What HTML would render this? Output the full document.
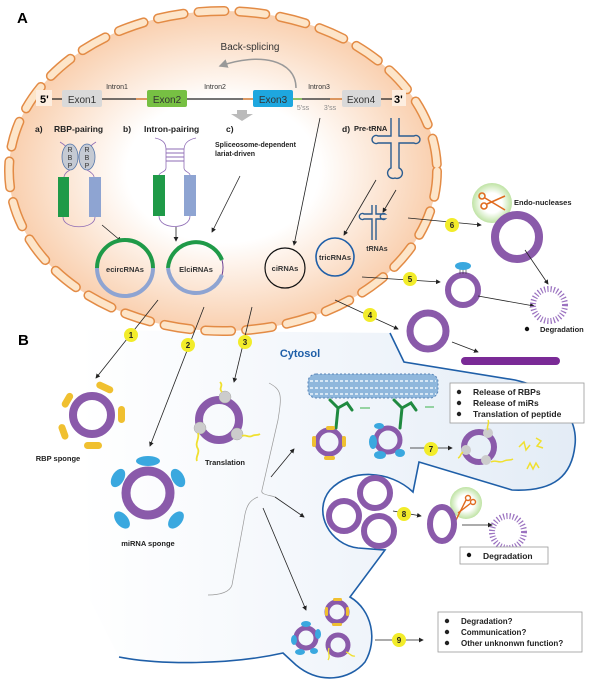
<!DOCTYPE html>
<html><head><meta charset="utf-8"><style>
html,body{margin:0;padding:0;background:#fff}
svg{display:block}
text{font-family:"Liberation Sans",Arial,sans-serif}
</style></head><body>
<svg width="600" height="690" viewBox="0 0 600 690" xmlns="http://www.w3.org/2000/svg">
<defs>
<radialGradient id="nuc" cx="50%" cy="50%" r="50%">
<stop offset="0.45" stop-color="#ffffff"/><stop offset="1" stop-color="#f9cfae"/>
</radialGradient>
<linearGradient id="cyt" x1="0" y1="0" x2="1" y2="0">
<stop offset="0" stop-color="#ffffff"/><stop offset="0.5" stop-color="#f2f6fb"/><stop offset="1" stop-color="#e3ecf6"/>
</linearGradient>
<marker id="ar" markerWidth="6" markerHeight="6" refX="5" refY="3" orient="auto"><path d="M0,0 L6,3 L0,6 z" fill="#222"/></marker>
<marker id="arg" markerWidth="6" markerHeight="6" refX="5" refY="3" orient="auto"><path d="M0,0 L6,3 L0,6 z" fill="#999"/></marker>
<radialGradient id="glow"><stop offset="0.5" stop-color="#ffffff"/><stop offset="1" stop-color="#bfe3a4"/></radialGradient>
</defs>

<!-- cytosol -->
<path d="M390,333 L404,362 L515,380 C560,390 578,420 575,445 C572,475 555,492 512,490 L419,462 L413,492 C390,470 350,468 330,490 C312,512 330,545 358,548 L385,550 L350,597 C372,610 378,640 365,662 C350,680 320,685 296,665 L283,653 C230,665 160,665 119,657 L90,600 L80,330 Z" fill="url(#cyt)"/>
<path d="M390,333 L404,362 L515,380 C560,390 578,420 575,445 C572,475 555,492 512,490 L419,462 L413,492 C390,470 350,468 330,490 C312,512 330,545 358,548 L385,550 L350,597 C372,610 378,640 365,662 C350,680 320,685 296,665 L283,653 C230,665 160,665 119,657" fill="none" stroke="#1f5fa8" stroke-width="1.6"/>

<!-- nucleus -->
<ellipse cx="223" cy="171" rx="214" ry="160" fill="url(#nuc)"/>
<ellipse cx="223" cy="171" rx="214" ry="160" fill="none" stroke="#e38b45" stroke-width="10" stroke-dasharray="26 15" stroke-linecap="round"/>
<ellipse cx="223" cy="171" rx="214" ry="160" fill="none" stroke="#fde5c9" stroke-width="7" stroke-dasharray="26 15" stroke-linecap="round"/>

<text x="17" y="23" font-size="15" font-weight="bold">A</text>
<text x="18" y="345" font-size="15" font-weight="bold">B</text>

<!-- gene -->
<line x1="52" y1="99" x2="395" y2="99" stroke="#222" stroke-width="1.3"/>
<line x1="136" y1="99" x2="147" y2="99" stroke="#e38b45" stroke-width="1.5"/>
<line x1="243" y1="99" x2="253" y2="99" stroke="#e38b45" stroke-width="1.5"/>
<line x1="293" y1="99" x2="302" y2="99" stroke="#7cc04a" stroke-width="1.5"/>
<line x1="330" y1="99" x2="342" y2="99" stroke="#e38b45" stroke-width="1.5"/>
<rect x="62" y="90" width="40" height="17" rx="2" fill="#d9d9d9"/><text x="82" y="103" font-size="10" text-anchor="middle" fill="#333">Exon1</text>
<rect x="147" y="90" width="40" height="17" rx="2" fill="#77c043"/><text x="167" y="103" font-size="10" text-anchor="middle" fill="#333">Exon2</text>
<rect x="253" y="90" width="40" height="17" rx="2" fill="#1ea7df"/><text x="273" y="103" font-size="10" text-anchor="middle" fill="#333">Exon3</text>
<rect x="342" y="90" width="39" height="17" rx="2" fill="#d9d9d9"/><text x="361" y="103" font-size="10" text-anchor="middle" fill="#333">Exon4</text>
<rect x="36" y="90" width="16" height="16" fill="#fdeee0"/><text x="40" y="103" font-size="11" font-weight="bold">5'</text>
<rect x="392" y="90" width="14" height="16" fill="#fdeee0"/><text x="394" y="103" font-size="11" font-weight="bold">3'</text>
<text x="117" y="89" font-size="7" text-anchor="middle" fill="#333">Intron1</text>
<text x="215" y="89" font-size="7" text-anchor="middle" fill="#333">Intron2</text>
<text x="319" y="89" font-size="7" text-anchor="middle" fill="#333">Intron3</text>
<text x="303" y="110" font-size="7" text-anchor="middle" fill="#888">5'ss</text>
<text x="330" y="110" font-size="7" text-anchor="middle" fill="#888">3'ss</text>
<text x="250" y="50" font-size="10" text-anchor="middle" fill="#333">Back-splicing</text>
<path d="M296,88 C296,60 260,52 220,66" fill="none" stroke="#999" stroke-width="1.5" marker-end="url(#arg)"/>
<path d="M237,110 h10 v4 h6 l-11,7 l-11,-7 h6 z" fill="#bbb"/>

<!-- a b c d labels -->
<g font-size="8.5" font-weight="bold" fill="#222">
<text x="35" y="132">a)</text><text x="54" y="132">RBP-pairing</text>
<text x="123" y="132">b)</text><text x="144" y="132">Intron-pairing</text>
<text x="226" y="132">c)</text>
<text x="215" y="147" font-size="7">Spliceosome-dependent</text>
<text x="215" y="156" font-size="7">lariat-driven</text>
<text x="342" y="132">d)</text><text x="354" y="131" font-size="7.5">Pre-tRNA</text>
</g>

<!-- RBP pairing -->
<path d="M60,142 C70,148 74,155 72,168 M96,142 C86,148 84,155 86,168" fill="none" stroke="#8e6bb5" stroke-width="0.8"/>
<ellipse cx="70" cy="157" rx="8" ry="13" fill="#c5cad3" stroke="#5577aa" stroke-width="0.8"/>
<ellipse cx="87" cy="157" rx="8" ry="13" fill="#c5cad3" stroke="#5577aa" stroke-width="0.8"/>
<g font-size="7" fill="#333" text-anchor="middle"><text x="70" y="152">R</text><text x="70" y="160">B</text><text x="70" y="168">P</text><text x="87" y="152">R</text><text x="87" y="160">B</text><text x="87" y="168">P</text></g>
<path d="M70,170 C66,172 64,175 64,177 M87,170 C91,172 94,175 94,177" fill="none" stroke="#8e6bb5" stroke-width="0.8"/>
<rect x="58" y="177" width="11" height="40" fill="#1f9a48"/>
<rect x="89" y="177" width="12" height="40" fill="#8ea4d2"/>
<path d="M63,217 C63,230 95,230 95,217" fill="none" stroke="#8e6bb5" stroke-width="0.8"/>
<line x1="102" y1="225" x2="121" y2="241" stroke="#222" stroke-width="0.8" marker-end="url(#ar)"/>

<!-- intron pairing -->
<path d="M155,138 C165,140 166,145 166,150 L166,168 C166,172 160,172 159,175 M196,138 C186,140 184,145 184,150 L184,168 C184,172 190,172 190,175" fill="none" stroke="#8e6bb5" stroke-width="0.8"/>
<g stroke="#8e6bb5" stroke-width="1"><line x1="166" y1="149" x2="184" y2="149"/><line x1="166" y1="153" x2="184" y2="153"/><line x1="166" y1="157" x2="184" y2="157"/><line x1="166" y1="161" x2="184" y2="161"/></g>
<rect x="153" y="175" width="12" height="41" fill="#1f9a48"/>
<rect x="184" y="175" width="12" height="41" fill="#8ea4d2"/>
<path d="M159,216 C159,230 190,230 190,216" fill="none" stroke="#8e6bb5" stroke-width="0.8"/>
<line x1="176" y1="227" x2="176" y2="241" stroke="#222" stroke-width="0.8" marker-end="url(#ar)"/>
<line x1="240" y1="176" x2="212" y2="232" stroke="#222" stroke-width="0.8" marker-end="url(#ar)"/>
<line x1="320" y1="118" x2="294" y2="245" stroke="#222" stroke-width="0.8" marker-end="url(#ar)"/>

<!-- circRNAs -->
<path d="M97,268 A28,28 0 0 1 153,268" fill="none" stroke="#1f9a48" stroke-width="4"/>
<path d="M153,268 A28,28 0 0 1 97,268" fill="none" stroke="#8ea4d2" stroke-width="4"/>
<text x="125" y="272" font-size="7.5" font-weight="bold" text-anchor="middle" fill="#333">ecircRNAs</text>
<path d="M168,268 A28,28 0 0 1 222,260" fill="none" stroke="#1f9a48" stroke-width="4"/>
<path d="M222,275 A28,28 0 0 1 168,268" fill="none" stroke="#8ea4d2" stroke-width="4"/>
<path d="M222,260 A28,28 0 0 1 222,275" fill="none" stroke="#6b3e93" stroke-width="1"/>
<text x="196" y="272" font-size="7.5" font-weight="bold" text-anchor="middle" fill="#333">ElciRNAs</text>
<circle cx="285" cy="268" r="20" fill="none" stroke="#111" stroke-width="1.2"/>
<text x="285" y="271" font-size="7.5" font-weight="bold" text-anchor="middle" fill="#333">ciRNAs</text>
<circle cx="335" cy="257" r="19" fill="none" stroke="#1f5fa8" stroke-width="1.6"/>
<text x="335" y="260" font-size="7.5" font-weight="bold" text-anchor="middle" fill="#333">tricRNAs</text>

<!-- tRNA -->
<g fill="none" stroke="#2b5d91" stroke-width="1.4">
<path d="M391,118 V136 H378 a4,4 0 1 0 0,7 H391 V168 a4,4 0 1 0 4,10 a4,4 0 1 0 4,-10 V143 H414 a4,4 0 1 0 0,-7 H399 V118"/>
<path d="M372,205 V214 H364 a3,3 0 1 0 0,5 H372 V240 M376,205 V214 H385 a3,3 0 1 0 0,5 H376 V240"/>
</g>
<text x="377" y="251" font-size="7" font-weight="bold" text-anchor="middle" fill="#333">tRNAs</text>
<line x1="376" y1="180" x2="344" y2="235" stroke="#222" stroke-width="0.8" marker-end="url(#ar)"/>
<line x1="396" y1="190" x2="383" y2="212" stroke="#222" stroke-width="0.8" marker-end="url(#ar)"/>

<!-- right side 4,5,6 -->
<circle cx="492" cy="203" r="20" fill="url(#glow)"/>
<g stroke="#e06b1f" stroke-width="1.6" fill="none"><circle cx="482" cy="196" r="3"/><circle cx="484" cy="206" r="3"/><line x1="485" y1="198" x2="505" y2="210"/><line x1="487" y1="204" x2="505" y2="196"/></g>
<text x="514" y="205" font-size="7.5" font-weight="bold" fill="#222">Endo-nucleases</text>
<circle cx="517" cy="237" r="22" fill="none" stroke="#8a5aaa" stroke-width="8"/>
<line x1="408" y1="218" x2="481" y2="225" stroke="#222" stroke-width="0.8" marker-end="url(#ar)"/>
<line x1="362" y1="277" x2="440" y2="282" stroke="#222" stroke-width="0.8" marker-end="url(#ar)"/>
<circle cx="463" cy="290" r="15" fill="none" stroke="#8a5aaa" stroke-width="6"/>
<g stroke="#333" stroke-width="0.6"><line x1="460" y1="268" x2="460" y2="274"/><line x1="463" y1="268" x2="463" y2="274"/><line x1="466" y1="268" x2="466" y2="274"/></g>
<ellipse cx="463" cy="266" rx="8" ry="4" fill="#3aa8df"/>
<line x1="525" y1="250" x2="548" y2="284" stroke="#222" stroke-width="0.8" marker-end="url(#ar)"/>
<line x1="478" y1="296" x2="534" y2="306" stroke="#222" stroke-width="0.8" marker-end="url(#ar)"/>
<circle cx="549" cy="305" r="16" fill="none" stroke="#9b72c0" stroke-width="6" stroke-dasharray="1.2 2"/>
<circle cx="527" cy="329" r="2.2" fill="#111"/><text x="540" y="332" font-size="7.5" font-weight="bold" fill="#222">Degradation</text>
<line x1="335" y1="300" x2="398" y2="329" stroke="#222" stroke-width="0.8" marker-end="url(#ar)"/>
<circle cx="428" cy="331" r="18" fill="none" stroke="#8a5aaa" stroke-width="7"/>
<line x1="452" y1="342" x2="478" y2="352" stroke="#222" stroke-width="0.8" marker-end="url(#ar)"/>
<rect x="461" y="357" width="99" height="8" rx="4" fill="#7a2a96"/>

<!-- B arrows 1 2 3 -->
<line x1="158" y1="300" x2="96" y2="378" stroke="#222" stroke-width="0.8" marker-end="url(#ar)"/>
<line x1="204" y1="307" x2="150" y2="446" stroke="#222" stroke-width="0.8" marker-end="url(#ar)"/>
<line x1="252" y1="307" x2="234" y2="382" stroke="#222" stroke-width="0.8" marker-end="url(#ar)"/>

<!-- RBP sponge -->
<circle cx="92" cy="415" r="19" fill="none" stroke="#8a5aaa" stroke-width="8"/>
<g fill="#f0c030">
<rect x="96" y="384" width="18" height="7" rx="3.5" transform="rotate(25 105 387)"/>
<rect x="64" y="392" width="7" height="16" rx="3.5" transform="rotate(30 67 400)"/>
<rect x="118" y="406" width="7" height="17" rx="3.5"/>
<rect x="60" y="424" width="7" height="16" rx="3.5" transform="rotate(-20 63 432)"/>
<rect x="84" y="442" width="18" height="7" rx="3.5"/>
</g>
<text x="58" y="461" font-size="7.5" font-weight="bold" text-anchor="middle" fill="#222">RBP sponge</text>

<!-- miRNA sponge -->
<circle cx="148" cy="493" r="22" fill="none" stroke="#8a5aaa" stroke-width="9"/>
<g fill="#3aa8df"><ellipse cx="148" cy="461" rx="12" ry="5"/><ellipse cx="118" cy="478" rx="6" ry="10" transform="rotate(30 118 478)"/><ellipse cx="178" cy="478" rx="6" ry="10" transform="rotate(-30 178 478)"/><ellipse cx="122" cy="520" rx="6" ry="10" transform="rotate(-40 122 520)"/><ellipse cx="176" cy="520" rx="6" ry="10" transform="rotate(40 176 520)"/></g>
<text x="148" y="546" font-size="7.5" font-weight="bold" text-anchor="middle" fill="#222">miRNA sponge</text>

<!-- Translation -->
<circle cx="219" cy="420" r="20" fill="none" stroke="#8a5aaa" stroke-width="8"/>
<g fill="#ccc" stroke="#aaa" stroke-width="0.5"><circle cx="225" cy="397" r="6"/><circle cx="200" cy="428" r="6"/><circle cx="237" cy="434" r="6"/></g>
<g fill="none" stroke="#f0e030" stroke-width="1.8"><path d="M222,392 c-4,-4 2,-6 -2,-10"/><path d="M198,433 c2,6 -4,10 0,16 c2,4 -3,8 -1,12"/><path d="M242,436 c4,-2 6,2 10,0 c3,-2 5,0 8,-2"/></g>
<text x="225" y="465" font-size="7.5" font-weight="bold" text-anchor="middle" fill="#222">Translation</text>

<text x="300" y="357" font-size="11" font-weight="bold" text-anchor="middle" fill="#1f5fa8">Cytosol</text>

<!-- brace -->
<path d="M269,383 C282,390 282,395 278,420 L262,490 C260,495 270,495 275,497 M258,497 C250,500 246,505 244,520 L232,585 C230,592 220,595 208,595" fill="none" stroke="#999" stroke-width="0.7"/>
<line x1="271" y1="477" x2="294" y2="449" stroke="#222" stroke-width="0.8" marker-end="url(#ar)"/>
<line x1="275" y1="497" x2="304" y2="517" stroke="#222" stroke-width="0.8" marker-end="url(#ar)"/>
<line x1="263" y1="508" x2="306" y2="610" stroke="#222" stroke-width="0.8" marker-end="url(#ar)"/>

<!-- microtubule -->
<g>
<rect x="308" y="374" width="130" height="24" rx="8" fill="#8fb7dc"/>
<rect x="308" y="374" width="130" height="24" rx="8" fill="none" stroke="#5a86b8" stroke-width="1" stroke-dasharray="2 2"/>
<line x1="310" y1="381" x2="436" y2="381" stroke="#d6e6f4" stroke-width="2" stroke-dasharray="3 2"/>
<line x1="310" y1="388" x2="436" y2="388" stroke="#d6e6f4" stroke-width="2" stroke-dasharray="3 2"/>
<line x1="310" y1="394" x2="436" y2="394" stroke="#d6e6f4" stroke-width="2" stroke-dasharray="3 2"/>
</g>
<g fill="none" stroke="#1f8a40" stroke-width="3" stroke-linecap="round">
<path d="M336,428 L338,408 L330,400 M338,408 L347,403 L352,410"/>
<path d="M400,428 L402,408 L394,400 M402,408 L411,403 L416,410"/>
</g>
<g stroke="#3cb24a" stroke-width="1"><line x1="360" y1="408" x2="370" y2="408"/><line x1="425" y1="407" x2="434" y2="407"/></g>
<rect x="450" y="383" width="134" height="40" fill="#fff" stroke="#999" stroke-width="0.8"/>
<g font-size="8.5" font-weight="bold" fill="#222"><circle cx="459" cy="392" r="2.2"/><text x="473" y="395">Release of RBPs</text><circle cx="459" cy="403" r="2.2"/><text x="473" y="406">Release of miRs</text><circle cx="459" cy="414" r="2.2"/><text x="473" y="417">Translation of peptide</text></g>
<circle cx="329" cy="442" r="12" fill="none" stroke="#8a5aaa" stroke-width="5"/>
<g fill="#f0c030"><rect x="312" y="436" width="4" height="11" rx="2"/><rect x="342" y="436" width="4" height="11" rx="2"/><rect x="324" y="456" width="11" height="4" rx="2"/><rect x="326" y="426" width="9" height="4" rx="2"/></g>
<circle cx="388" cy="440" r="12" fill="none" stroke="#8a5aaa" stroke-width="5"/>
<g fill="#3aa8df"><ellipse cx="373" cy="442" rx="4" ry="7"/><ellipse cx="380" cy="455" rx="6" ry="4"/><ellipse cx="400" cy="453" rx="5" ry="4"/><ellipse cx="379" cy="426" rx="5" ry="3"/></g>
<line x1="410" y1="448" x2="452" y2="448" stroke="#222" stroke-width="0.8" marker-end="url(#ar)"/>
<circle cx="479" cy="447" r="15" fill="none" stroke="#8a5aaa" stroke-width="6"/>
<g fill="#ccc"><circle cx="488" cy="433" r="5"/><circle cx="466" cy="450" r="5"/><circle cx="486" cy="460" r="5"/></g>
<g fill="none" stroke="#f0e030" stroke-width="1.5"><path d="M488,430 c-2,-4 2,-6 0,-10"/><path d="M463,452 c-3,2 -2,5 -5,6"/><path d="M491,462 c5,-3 8,2 13,-1 c4,-2 6,0 9,-2"/><path d="M519,447 l5,-5 l2,8 l4,-5"/><path d="M536,438 l5,3 l-4,5 l6,2"/><path d="M527,469 l3,-6 l3,6 l3,-6 l3,5"/></g>

<!-- region 8 -->
<g fill="none" stroke="#8a5aaa" stroke-width="6"><circle cx="375" cy="493" r="15"/><circle cx="344" cy="516" r="15"/><circle cx="379" cy="531" r="15"/></g>
<line x1="393" y1="511" x2="421" y2="516" stroke="#222" stroke-width="0.8" marker-end="url(#ar)"/>
<circle cx="466" cy="503" r="16" fill="url(#glow)"/>
<g stroke="#e06b1f" stroke-width="1.4" fill="none"><circle cx="468" cy="498" r="2.5"/><circle cx="473" cy="502" r="2.5"/><line x1="466" y1="500" x2="456" y2="520"/><line x1="471" y1="503" x2="458" y2="513"/></g>
<ellipse cx="442" cy="524" rx="12" ry="17" fill="none" stroke="#8a5aaa" stroke-width="6"/>
<line x1="462" y1="525" x2="492" y2="525" stroke="#222" stroke-width="0.8" marker-end="url(#ar)"/>
<circle cx="508" cy="532" r="16" fill="none" stroke="#9b72c0" stroke-width="6" stroke-dasharray="1.2 2"/>
<rect x="460" y="547" width="88" height="17" fill="#fff" stroke="#999" stroke-width="0.8"/>
<circle cx="469" cy="555" r="2.2" fill="#111"/><text x="483" y="559" font-size="8.5" font-weight="bold" fill="#222">Degradation</text>

<!-- region 9 -->
<circle cx="337" cy="612" r="10" fill="none" stroke="#8a5aaa" stroke-width="5"/>
<g fill="#f0c030"><rect x="333" y="598" width="9" height="3" rx="1.5"/><rect x="325" y="607" width="3" height="9" rx="1.5"/><rect x="346" y="607" width="3" height="9" rx="1.5"/><rect x="332" y="623" width="10" height="3" rx="1.5"/></g>
<circle cx="306" cy="638" r="10" fill="none" stroke="#8a5aaa" stroke-width="5"/>
<g fill="#3aa8df"><ellipse cx="306" cy="624" rx="5" ry="3"/><ellipse cx="294" cy="640" rx="3" ry="5"/><ellipse cx="318" cy="634" rx="3" ry="5"/><ellipse cx="300" cy="652" rx="5" ry="3"/><ellipse cx="314" cy="651" rx="4" ry="3"/></g>
<circle cx="338" cy="645" r="10" fill="none" stroke="#8a5aaa" stroke-width="5"/>
<g fill="none" stroke="#f0e030" stroke-width="1.3"><path d="M329,648 c-2,5 2,8 -1,12"/><path d="M346,652 c4,1 5,5 9,4"/></g>
<line x1="375" y1="640" x2="423" y2="640" stroke="#222" stroke-width="0.8" marker-end="url(#ar)"/>
<rect x="438" y="612" width="144" height="40" fill="#fff" stroke="#999" stroke-width="0.8"/>
<g font-size="8" font-weight="bold" fill="#222"><circle cx="447" cy="621" r="2.2"/><text x="461" y="624">Degradation?</text><circle cx="447" cy="632" r="2.2"/><text x="461" y="635">Communication?</text><circle cx="447" cy="643" r="2.2"/><text x="461" y="646">Other unknonwn function?</text></g>

<!-- badges -->
<g font-size="8" font-weight="bold" text-anchor="middle" fill="#222">
<circle cx="131" cy="335" r="7" fill="#f2ec2a"/><text x="131" y="338">1</text>
<circle cx="188" cy="345" r="7" fill="#f2ec2a"/><text x="188" y="348">2</text>
<circle cx="245" cy="342" r="7" fill="#f2ec2a"/><text x="245" y="345">3</text>
<circle cx="370" cy="315" r="7" fill="#f2ec2a"/><text x="370" y="318">4</text>
<circle cx="410" cy="279" r="7" fill="#f2ec2a"/><text x="410" y="282">5</text>
<circle cx="452" cy="225" r="7" fill="#f2ec2a"/><text x="452" y="228">6</text>
<circle cx="431" cy="449" r="7" fill="#f2ec2a"/><text x="431" y="452">7</text>
<circle cx="404" cy="514" r="7" fill="#f2ec2a"/><text x="404" y="517">8</text>
<circle cx="399" cy="640" r="7" fill="#f2ec2a"/><text x="399" y="643">9</text>
</g>
</svg>
</body></html>
